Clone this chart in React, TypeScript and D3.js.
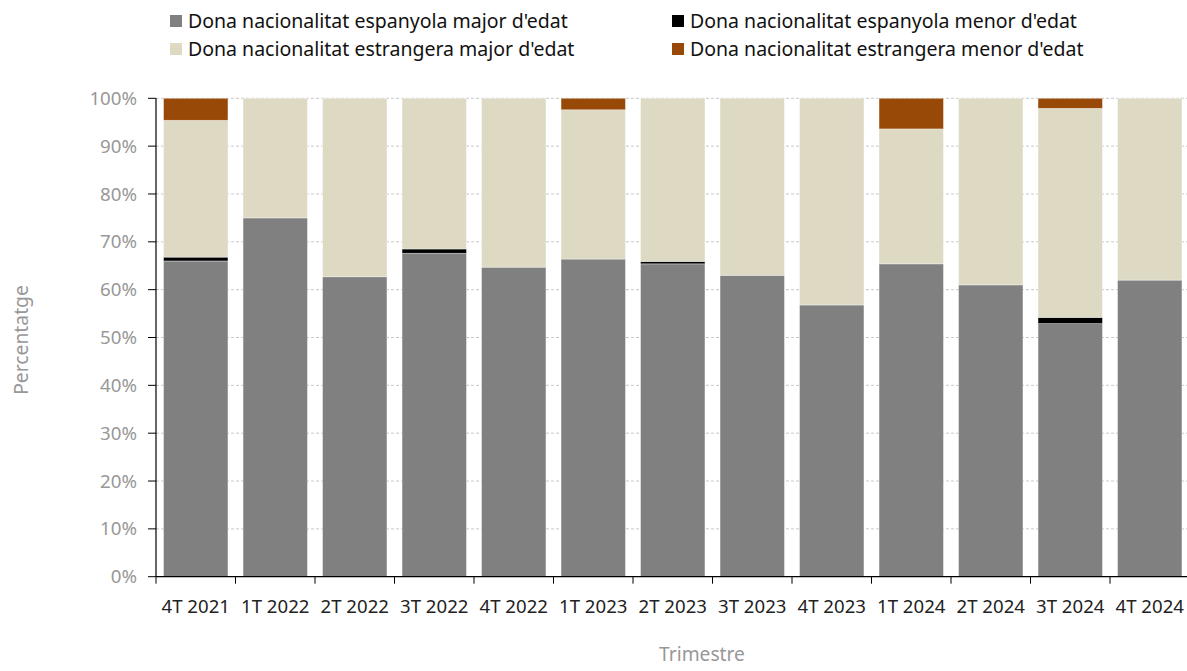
import React from 'react';
import * as d3 from 'd3';

// --- data ---
const categories = ['4T 2021', '1T 2022', '2T 2022', '3T 2022', '4T 2022', '1T 2023', '2T 2023', '3T 2023', '4T 2023', '1T 2024', '2T 2024', '3T 2024', '4T 2024'];
const espMajor = [66.0, 75.0, 62.7, 67.6, 64.7, 66.4, 65.4, 63.0, 56.8, 65.4, 61.0, 52.9, 62.0];
const espMenor = [0.8, 0, 0, 0.9, 0, 0, 0.5, 0, 0, 0, 0, 1.3, 0];
const estMajor = [28.6, 25.0, 37.3, 31.5, 35.3, 31.2, 34.1, 37.0, 43.2, 28.2, 39.0, 43.7, 38.0];
const estMenor = [4.6, 0, 0, 0, 0, 2.4, 0, 0, 0, 6.4, 0, 2.1, 0];
const yTicks = [0, 10, 20, 30, 40, 50, 60, 70, 80, 90, 100];

const seriesNames = [
    "Dona nacionalitat espanyola major d'edat",
    "Dona nacionalitat espanyola menor d'edat",
    "Dona nacionalitat estrangera major d'edat",
    "Dona nacionalitat estrangera menor d'edat",
];
const seriesValues = [espMajor, espMenor, estMajor, estMenor];
const colors = ['#808080', '#000000', '#DDD9C3', '#984807'];

const W = 1187;
const H = 671;
const margin = { left: 156, right: -2.5, top: 98.3, bottom: 94.3 };
const FONT = "'Noto Sans', 'Open Sans', sans-serif";

export default function App() {
    const x = d3.scaleBand<string>()
        .domain(categories)
        .range([margin.left, W - margin.right])
        .paddingInner(0.19)
        .paddingOuter(0.095);
    const y = d3.scaleLinear().domain([0, 100]).range([H - margin.bottom, margin.top]);

    const rows = categories.map((c, i) => {
        const r: any = { cat: c };
        seriesNames.forEach((n, k) => { r[n] = seriesValues[k][i]; });
        return r;
    });
    const stacked = d3.stack<any>().keys(seriesNames)(rows);

    const x0 = margin.left;
    const x1 = W - margin.right;
    const y0 = y(0);
    const step = x.step();

    const legend = [
        { name: seriesNames[0], color: colors[0], lx: 170, ly: 21 },
        { name: seriesNames[1], color: colors[1], lx: 672, ly: 21 },
        { name: seriesNames[2], color: colors[2], lx: 170, ly: 49 },
        { name: seriesNames[3], color: colors[3], lx: 672, ly: 49 },
    ];

    return (
        <svg width={W} height={H} style={{ position: 'absolute', left: 0, top: 0, background: '#fff' }} fontFamily={FONT}>
            {/* gridlines */}
            {yTicks.filter(t => t > 0).map(t => (
                <line key={t} x1={x0} x2={x1} y1={y(t)} y2={y(t)} stroke="#c8c8c8" strokeWidth={1} strokeDasharray="3,2" />
            ))}

            {/* stacked bars */}
            {stacked.map((s, k) => (
                <g key={s.key} fill={colors[k]}>
                    {s.map((d, i) => (d[1] - d[0] > 0 ? (
                        <rect key={i}
                            x={x(categories[i])}
                            width={x.bandwidth()}
                            y={y(d[1])}
                            height={y(d[0]) - y(d[1])}
                            stroke="#ffffff" strokeOpacity={0.45} strokeWidth={0.8} />
                    ) : null))}
                </g>
            ))}

            {/* y axis */}
            <line x1={x0} x2={x0} y1={y(100)} y2={y0} stroke="#000" strokeWidth={1.2} />
            {yTicks.map(t => (
                <g key={t}>
                    <line x1={x0 - 8} x2={x0} y1={y(t)} y2={y(t)} stroke="#000" strokeWidth={1} />
                    <text x={137} y={y(t)} dy="0.35em" textAnchor="end" fontSize={18.7} fill="#989898">{t}%</text>
                </g>
            ))}

            {/* x axis */}
            <line x1={x0} x2={x1} y1={y0} y2={y0} stroke="#000" strokeWidth={1.2} />
            {categories.map((c, i) => (
                <line key={'t' + i} x1={x0 + i * step} x2={x0 + i * step} y1={y0} y2={y0 + 7} stroke="#000" strokeWidth={1} />
            ))}
            {categories.map(c => (
                <text key={c} x={(x(c) as number) + x.bandwidth() / 2} y={606} dy="0.35em" textAnchor="middle" fontSize={18.6} fill="#222">{c}</text>
            ))}

            {/* axis titles */}
            <text x={702} y={654} dy="0.35em" textAnchor="middle" fontSize={19.2} fill="#989898">Trimestre</text>
            <text transform={`translate(21,${340}) rotate(-90)`} dy="0.35em" textAnchor="middle" fontSize={19.3} fill="#989898">Percentatge</text>

            {/* legend */}
            {legend.map(l => (
                <g key={l.name}>
                    <rect x={l.lx} y={l.ly - 6} width={12} height={12} fill={l.color} />
                    <text x={l.lx + 18} y={l.ly} dy="0.35em" fontSize={19.5} fill="#111">{l.name}</text>
                </g>
            ))}
        </svg>
    );
}
